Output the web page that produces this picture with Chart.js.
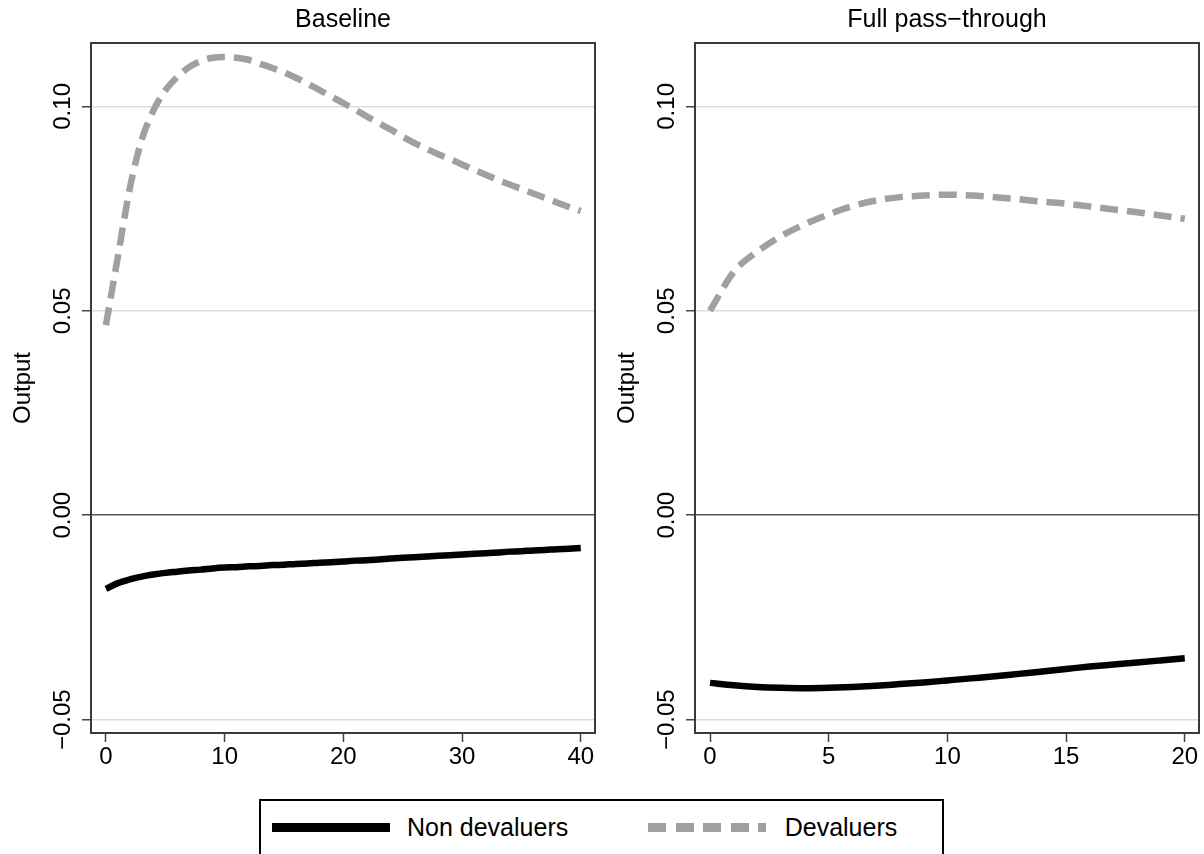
<!DOCTYPE html>
<html>
<head>
<meta charset="utf-8">
<title>Output responses</title>
<script src="https://cdn.jsdelivr.net/npm/chart.js@4.4.1/dist/chart.umd.min.js"></script>
<style>
  body {
    margin: 0;
    background: #fff;
    width: 1204px;
    height: 854px;
    overflow: hidden;
    position: relative;
    font-family: "Liberation Sans", Arial, Helvetica, sans-serif;
  }
  .panel { position: absolute; top: 0; width: 600px; height: 780px; }
  #legend {
    position: absolute;
    left: 259px;
    top: 799px;
    width: 681px;
    height: 90px;
    border: 2px solid #000;
  }
  .key { position: absolute; top: 21.8px; width: 118px; height: 9px; }
  .key.solid { background: #000; }
  .key.dashed { background: repeating-linear-gradient(to right, #a0a0a0 0 18px, transparent 18px 27.5px); }
  .key-label { position: absolute; top: 13.5px; font-size: 25px; line-height: 25px; color: #000; white-space: nowrap; }
</style>
</head>
<body>
<div class="panel" style="left:0"><canvas id="baseline" width="600" height="780"></canvas></div>
<div class="panel" style="left:604px"><canvas id="fullPass" width="600" height="780"></canvas></div>
<div id="legend">
  <div class="key solid" style="left:10.7px"></div>
  <div class="key-label" style="left:146px">Non devaluers</div>
  <div class="key dashed" style="left:387px"></div>
  <div class="key-label" style="left:523.7px">Devaluers</div>
</div>
<script>
// y axis is shared by both panels
const yTicks = [-0.05, 0, 0.05, 0.10];

// Baseline panel (quarters 0-40)
const baselinePeriods = [0, 1, 2, 3, 4, 5, 6, 7, 8, 9, 10, 11, 12, 13, 14, 15, 16, 17, 18, 19, 20,
    21, 22, 23, 24, 25, 26, 27, 28, 29, 30, 31, 32, 33, 34, 35, 36, 37, 38, 39, 40];
const baselineXTicks = [0, 10, 20, 30, 40];
const baselineNonDevaluers = [-0.0180, -0.0166, -0.0157, -0.0150, -0.0145, -0.0141, -0.0138, -0.0135,
    -0.0133, -0.0130, -0.0128, -0.0127, -0.0125, -0.0124, -0.0122, -0.0121, -0.0119, -0.0118, -0.0116,
    -0.0115, -0.0113, -0.0111, -0.0110, -0.0108, -0.0106, -0.0104, -0.0103, -0.0101, -0.0099, -0.0098,
    -0.0096, -0.0094, -0.0093, -0.0091, -0.0089, -0.0088, -0.0086, -0.0085, -0.0083, -0.0082, -0.0080];
const baselineDevaluers = [0.0465, 0.0632, 0.0798, 0.0917, 0.0990, 0.1039, 0.1072, 0.1096, 0.1111,
    0.1119, 0.1121, 0.1119, 0.1114, 0.1104, 0.1094, 0.1083, 0.1070, 0.1055, 0.1040, 0.1024, 0.1008,
    0.0992, 0.0975, 0.0959, 0.0943, 0.0926, 0.0910, 0.0896, 0.0883, 0.0871, 0.0858, 0.0845, 0.0833,
    0.0820, 0.0809, 0.0798, 0.0787, 0.0776, 0.0765, 0.0754, 0.0744];

// Full pass-through panel (quarters 0-20)
const fullPeriods = [0, 1, 2, 3, 4, 5, 6, 7, 8, 9, 10, 11, 12, 13, 14, 15, 16, 17, 18, 19, 20];
const fullXTicks = [0, 5, 10, 15, 20];
const fullNonDevaluers = [-0.0410, -0.0416, -0.0420, -0.0422, -0.0423, -0.0422, -0.0420, -0.0417,
    -0.0413, -0.0409, -0.0404, -0.0399, -0.0394, -0.0388, -0.0382, -0.0376, -0.0370, -0.0365,
    -0.0360, -0.0355, -0.0350];
const fullDevaluers = [0.0500, 0.0595, 0.0645, 0.0683, 0.0712, 0.0736, 0.0756, 0.0770, 0.0778,
    0.0782, 0.0784, 0.0782, 0.0778, 0.0773, 0.0767, 0.0762, 0.0755, 0.0748, 0.0741, 0.0733, 0.0725];

Chart.defaults.font.family = '"Liberation Sans", Arial, Helvetica, sans-serif';
Chart.defaults.color = '#000';

// Stata-style outline round the plot region
const framePlugin = {
    id: 'frame',
    afterDatasetsDraw(chart) {
        const { ctx, chartArea: a } = chart;
        ctx.save();
        ctx.strokeStyle = '#3a3a3a';
        ctx.lineWidth = 2;
        ctx.strokeRect(a.left, a.top, a.right - a.left, a.bottom - a.top);
        ctx.restore();
    }
};

function toPoints(xs, ys) {
    return xs.map((x, i) => ({ x: x, y: ys[i] }));
}

function makePanel(canvasId, title, periods, nonDev, dev, xMin, xMax, xTicks) {
    const ctx = document.getElementById(canvasId).getContext('2d');
    return new Chart(ctx, {
        type: 'line',
        data: {
            datasets: [
                {
                    label: 'Non devaluers',
                    data: toPoints(periods, nonDev),
                    borderColor: '#000',
                    borderWidth: 6.5,
                    pointRadius: 0,
                    cubicInterpolationMode: 'monotone',
                },
                {
                    label: 'Devaluers',
                    data: toPoints(periods, dev),
                    borderColor: '#a0a0a0',
                    borderWidth: 6.5,
                    borderDash: [18, 9],
                    pointRadius: 0,
                    cubicInterpolationMode: 'monotone',
                }
            ]
        },
        options: {
            responsive: false,
            animation: false,
            layout: { padding: { left: 0, top: 0, right: 5, bottom: 7 } },
            scales: {
                x: {
                    type: 'linear',
                    min: xMin,
                    max: xMax,
                    afterBuildTicks: s => { s.ticks = xTicks.map(v => ({ value: v })); },
                    afterFit: s => { s.height = 40; },
                    ticks: { autoSkip: false, padding: 1, font: { size: 24 }, color: '#000' },
                    grid: { drawOnChartArea: false, drawTicks: true, tickLength: 9, tickColor: '#444', tickWidth: 1.5 },
                    border: { display: false },
                },
                y: {
                    min: -0.05326,
                    max: 0.1155,
                    afterBuildTicks: s => { s.ticks = yTicks.map(v => ({ value: v })); },
                    afterFit: s => { s.width = 91; },
                    ticks: {
                        minRotation: 90,
                        maxRotation: 90,
                        crossAlign: 'center',
                        padding: -12,
                        font: { size: 24 },
                        color: '#000',
                        callback: v => (v < 0 ? '\u2212' : '') + Math.abs(v).toFixed(2),
                    },
                    grid: {
                        color: c => (c.tick && c.tick.value === 0 ? '#555' : '#dcdcdc'),
                        lineWidth: 1.5,
                        tickLength: 9,
                        tickColor: '#444',
                        tickWidth: 1.5,
                    },
                    border: { display: false },
                    title: {
                        display: true,
                        text: 'Output',
                        font: { size: 24 },
                        color: '#000',
                        padding: { top: 9, bottom: 0 },
                    },
                }
            },
            plugins: {
                legend: { display: false },
                tooltip: { enabled: false },
                title: {
                    display: true,
                    text: title,
                    fullSize: false,
                    color: '#000',
                    font: { size: 25, weight: 'normal' },
                    padding: { top: 5.5, bottom: 7.5 },
                }
            }
        },
        plugins: [framePlugin]
    });
}

makePanel('baseline', 'Baseline', baselinePeriods, baselineNonDevaluers, baselineDevaluers,
    -1.26, 41.2, baselineXTicks);
makePanel('fullPass', 'Full pass\u2212through', fullPeriods, fullNonDevaluers, fullDevaluers,
    -0.632, 20.6, fullXTicks);
</script>
</body>
</html>
